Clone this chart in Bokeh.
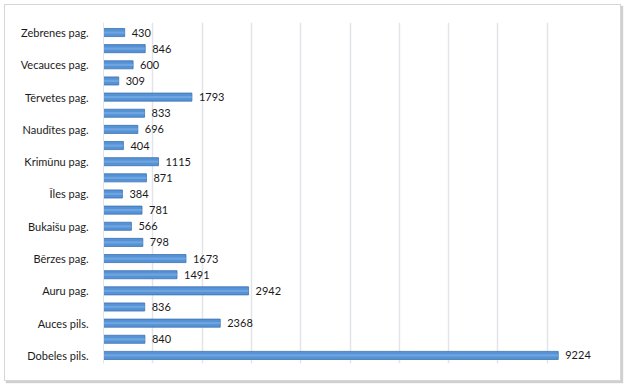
from bokeh.plotting import figure
from bokeh.models import ColumnDataSource, FixedTicker, Range1d
from bokeh.core.properties import value
from bokeh.embed import file_html
from bokeh.resources import INLINE

# categories, bottom to top
categories = ["Dobeles pils.", "Annenieku pag.", "Auces pils.", "Augstkalnes pag.", "Auru pag.",
              "Bēnes pag.", "Bērzes pag.", "Bikstu pag.", "Bukaišu pag.", "Dobeles pag.",
              "Īles pag.", "Jaunbērzes pag.", "Krimūnu pag.", "Lielauces pag.", "Naudītes pag.",
              "Penkules pag.", "Tērvetes pag.", "Ukru pag.", "Vecauces pag.", "Vītiņu pag.",
              "Zebrenes pag."]
values = [9224, 840, 2368, 836, 2942, 1491, 1673, 798, 566, 781, 384, 871, 1115, 404, 696,
          833, 1793, 309, 600, 846, 430]
x_ticks = [0, 1000, 2000, 3000, 4000, 5000, 6000, 7000, 8000, 9000, 10000]

pos = list(range(len(categories)))
src = ColumnDataSource(dict(y=pos, v=values, lab=[str(v) for v in values]))

p = figure(width=617, height=377, output_backend="svg", toolbar_location=None,
           x_range=Range1d(0, 10000), y_range=Range1d(-0.5, 20.62),
           min_border_left=98, min_border_right=26, min_border_top=17, min_border_bottom=19,
           styles={"border": "1px solid #d6d6d6", "box-shadow": "2px 2px 1px #d0d0d0",
                   "margin-left": "4px", "margin-top": "4px"})
p.outline_line_color = None
p.background_fill_color = "white"
p.border_fill_color = "white"

p.hbar(y="y", right="v", left=0, height=0.5, source=src,
       fill_color="#5592d6", line_color="#3d72ad", line_width=0.8)
p.hbar(y="y", right="v", left=0, height=0.14, source=src,
       fill_color="#7fb0e6", line_color=None, fill_alpha=0.6)

p.text(x="v", y="y", text="lab", source=src, x_offset=7, text_align="left",
       text_baseline="middle", text_font=value("Lato"), text_font_size="11px",
       text_color="#1a1a1a")

p.xaxis.visible = False
p.xgrid.ticker = FixedTicker(ticks=x_ticks)
p.xgrid.grid_line_color = "#e2e4ea"
p.xgrid.grid_line_width = 1.5
p.ygrid.grid_line_color = None

even = pos[::2]
p.yaxis.ticker = FixedTicker(ticks=even)
p.yaxis.major_label_overrides = {i: categories[i] for i in even}
p.yaxis.major_tick_line_color = None
p.yaxis.minor_tick_line_color = None
p.yaxis.axis_line_color = "#e2e4ea"
p.yaxis.major_label_standoff = 9
p.yaxis.major_label_text_font = "Lato"
p.yaxis.major_label_text_font_size = "11px"
p.yaxis.major_label_text_color = "#1a1a1a"

open("out.html", "w").write(file_html(p, INLINE))
